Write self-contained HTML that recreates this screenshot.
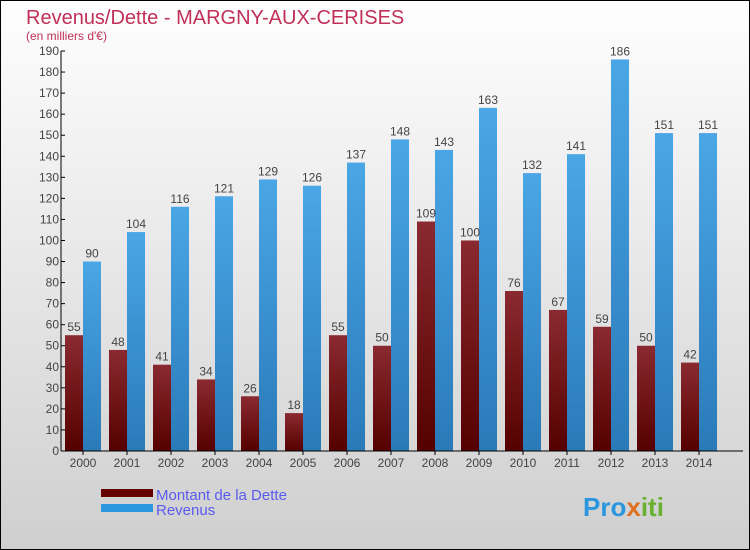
<!DOCTYPE html>
<html><head><meta charset="utf-8"><style>
body{margin:0}
#c{width:748px;height:548px;border:1px solid #000;background:linear-gradient(#fefefe,#cfcfcf);position:relative;font-family:"Liberation Sans",sans-serif;overflow:hidden}
</style></head><body>
<div id="c">
<svg id="s" width="748" height="548" xmlns="http://www.w3.org/2000/svg">
<defs>
<linearGradient id="gd" x1="0" y1="0" x2="0" y2="1"><stop offset="0" stop-color="#8a2a30"/><stop offset="1" stop-color="#550000"/></linearGradient>
<linearGradient id="gr" x1="0" y1="0" x2="0" y2="1"><stop offset="0" stop-color="#4aa6e6"/><stop offset="1" stop-color="#2a7ab8"/></linearGradient>
</defs>
<text x="25" y="23" font-size="20" fill="#c0305a">Revenus/Dette - MARGNY-AUX-CERISES</text>
<text x="25" y="39" font-size="12" fill="#c0305a">(en milliers d'€)</text>
<g id="bars"></g>
<g id="axes"></g>
<rect x="100" y="488" width="52" height="8" fill="#660000"/>
<rect x="100" y="503" width="52" height="8" fill="#2a96de"/>
<text x="155" y="499" font-size="15" fill="#5a5af0">Montant de la Dette</text>
<text x="155" y="514" font-size="15" fill="#5a5af0">Revenus</text>
<text x="582" y="515" font-size="26" font-weight="bold" fill="#2a96de">Pro<tspan fill="#e07020">x</tspan><tspan fill="#6ab030">iti</tspan></text>
</svg>
</div>
<script>
const years=["2000","2001","2002","2003","2004","2005","2006","2007","2008","2009","2010","2011","2012","2013","2014"];
const dette=[55,48,41,34,26,18,55,50,109,100,76,67,59,50,42];
const revenus=[90,104,116,121,129,126,137,148,143,163,132,141,186,151,151];
const ticks=[0,10,20,30,40,50,60,70,80,90,100,110,120,130,140,150,160,170,180,190];
const NS="http://www.w3.org/2000/svg";
const y=v=>450-v*400/190;
const xc=i=>82+i*44;
function mk(t,a,p){const e=document.createElementNS(NS,t);for(const k in a)e.setAttribute(k,a[k]);p.appendChild(e);return e;}
const B=document.getElementById('bars'),A=document.getElementById('axes');
years.forEach((yr,i)=>{
 const d=mk('rect',{x:xc(i)-18,y:y(dette[i]),width:18,height:450-y(dette[i]),fill:'url(#gd)'},B);
 
 
 const r=mk('rect',{x:xc(i),y:y(revenus[i]),width:18,height:450-y(revenus[i]),fill:'url(#gr)'},B);
 
 
 const t1=mk('text',{x:xc(i)-9,y:y(dette[i])-4,'font-size':12,fill:'#444','text-anchor':'middle'},B);t1.textContent=dette[i];
 
 
 const t2=mk('text',{x:xc(i)+9,y:y(revenus[i])-4,'font-size':12,fill:'#444','text-anchor':'middle'},B);t2.textContent=revenus[i];
 
 
 const xl=mk('text',{x:xc(i),y:466,'font-size':12,fill:'#444','text-anchor':'middle'},A);xl.textContent=yr;
 
 
 mk('line',{x1:xc(i),x2:xc(i),y1:450,y2:454,stroke:'#000'},A);
});
ticks.forEach(t=>{
 mk('line',{x1:60,x2:64,y1:y(t),y2:y(t),stroke:'#000'},A);
 const l=mk('text',{x:58,y:y(t)+4,'font-size':12,fill:'#444','text-anchor':'end'},A);l.textContent=t;
 
 
});
const ya=mk('line',{x1:60,x2:60,y1:50,y2:450,stroke:'#000'},A);


const xa=mk('line',{x1:60,x2:742,y1:450,y2:450,stroke:'#000'},A);


</script>
</body></html>
